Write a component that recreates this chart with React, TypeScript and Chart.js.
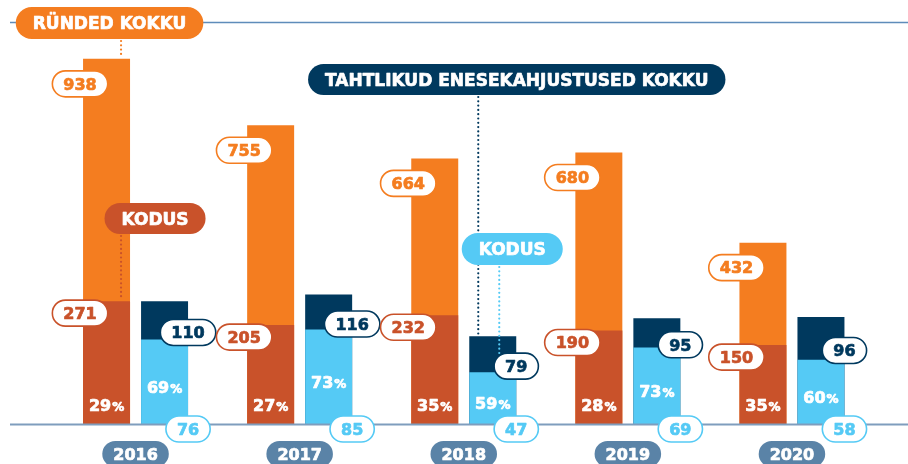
import React, { useEffect, useRef } from "react";
import { Chart, registerables } from "chart.js";

Chart.register(...registerables);

// ---- data ----
const years = ["2016", "2017", "2018", "2019", "2020"];
const attacksTotal = [938, 755, 664, 680, 432];
const attacksHome = [271, 205, 232, 190, 150];
const attacksHomePct = [29, 27, 35, 28, 35];
const selfHarmTotal = [110, 116, 79, 95, 96];
const selfHarmHome = [76, 85, 47, 69, 58];
const selfHarmHomePct = [69, 73, 59, 73, 60];

const headerAttacks = "RÜNDED KOKKU";
const headerSelfHarm = "TAHTLIKUD ENESEKAHJUSTUSED KOKKU";
const headerHome = "KODUS";

// ---- styles ----
const ORANGE = "#F47D20";
const DARK_ORANGE = "#C9522A";
const NAVY = "#00395E";
const LIGHT_BLUE = "#55CAF5";
const YEAR_BG = "#5A83A7";
const LINE = "#5E8CBA";
const BASE_LINE = "#7F9DBD";
const FAMILY = '"DejaVu Sans", "Open Sans", sans-serif';
const CAP = 0.729;

const ORANGE_MIN = -70;
const ORANGE_MAX = 1100;
const NAVY_MIN = 0;
const NAVY_MAX = 378;

function pillPath(ctx: CanvasRenderingContext2D, cx: number, cy: number, w: number, h: number) {
  ctx.beginPath();
  (ctx as any).roundRect(cx - w / 2, cy - h / 2, w, h, h / 2);
}

function boldText(ctx: CanvasRenderingContext2D, text: string, x: number, y: number, color: string) {
  ctx.fillStyle = color;
  ctx.strokeStyle = color;
  ctx.lineWidth = 0.7;
  ctx.lineJoin = "round";
  ctx.fillText(text, x, y);
  ctx.strokeText(text, x, y);
}

function textPill(
  ctx: CanvasRenderingContext2D,
  text: string,
  cx: number,
  cy: number,
  opts: { size: number; h: number; padX: number; fill: string; stroke?: string; color: string; minW?: number }
) {
  ctx.save();
  ctx.font = `bold ${opts.size}px ${FAMILY}`;
  const tw = ctx.measureText(text).width;
  const w = Math.max(tw + opts.padX * 2, opts.minW || 0);
  pillPath(ctx, cx, cy, w, opts.h);
  ctx.fillStyle = opts.fill;
  ctx.fill();
  if (opts.stroke) {
    ctx.lineWidth = 1.6;
    ctx.strokeStyle = opts.stroke;
    ctx.stroke();
  }
  ctx.textAlign = "center";
  ctx.textBaseline = "alphabetic";
  boldText(ctx, text, cx, cy + (opts.size * CAP) / 2, opts.color);
  ctx.restore();
}

function dotted(ctx: CanvasRenderingContext2D, x: number, y1: number, y2: number, color: string) {
  ctx.save();
  ctx.strokeStyle = color;
  ctx.lineWidth = 2.2;
  ctx.lineCap = "round";
  ctx.setLineDash([0, 4.3]);
  ctx.beginPath();
  ctx.moveTo(x, y1);
  ctx.lineTo(x, y2);
  ctx.stroke();
  ctx.restore();
}

function pctText(ctx: CanvasRenderingContext2D, value: number, cx: number, cy: number) {
  ctx.save();
  const n = String(value);
  const fBig = `bold 16px ${FAMILY}`;
  const fSmall = `bold 12px ${FAMILY}`;
  ctx.font = fBig;
  const w1 = ctx.measureText(n).width;
  ctx.font = fSmall;
  const w2 = ctx.measureText("%").width;
  const x0 = cx - (w1 + w2 + 1) / 2;
  const base = cy + (16 * CAP) / 2;
  ctx.textAlign = "left";
  ctx.textBaseline = "alphabetic";
  ctx.font = fBig;
  boldText(ctx, n, x0, base, "#FFFFFF");
  ctx.font = fSmall;
  boldText(ctx, "%", x0 + w1 + 1, base, "#FFFFFF");
  ctx.restore();
}

const overlay = {
  id: "overlay",
  beforeDatasetsDraw(chart: any) {
    const ctx = chart.ctx as CanvasRenderingContext2D;
    ctx.save();
    ctx.strokeStyle = LINE;
    ctx.lineWidth = 1.5;
    ctx.beginPath();
    ctx.moveTo(10, 22.5);
    ctx.lineTo(chart.width, 22.5);
    ctx.stroke();
    ctx.restore();
  },
  afterDatasetsDraw(chart: any) {
    const ctx = chart.ctx as CanvasRenderingContext2D;
    const area = chart.chartArea;
    const oHome = chart.getDatasetMeta(0).data;
    const oTot = chart.getDatasetMeta(1).data;
    const bHome = chart.getDatasetMeta(2).data;
    const nTot = chart.getDatasetMeta(3).data;
    const xScale = chart.scales.x;

    // baseline
    ctx.save();
    ctx.strokeStyle = BASE_LINE;
    ctx.lineWidth = 2;
    ctx.beginPath();
    ctx.moveTo(10, area.bottom - 0.5);
    ctx.lineTo(chart.width, area.bottom - 0.5);
    ctx.stroke();
    ctx.restore();

    // percentages
    years.forEach((_, i) => {
      pctText(ctx, attacksHomePct[i], oHome[i].x, area.bottom - 20);
      const lbTop = bHome[i].y;
      pctText(ctx, selfHarmHomePct[i], bHome[i].x, (lbTop + area.bottom) / 2 + 5);
    });

    // header annotations (dotted leaders first)
    const first = oTot[0];
    const leadX = first.x + 14.5;
    dotted(ctx, leadX, 41, first.y - 1, ORANGE);
    dotted(ctx, leadX, 236, oHome[0].y - 1, DARK_ORANGE);
    const mid = nTot[2];
    dotted(ctx, mid.x - 14.5, 97, mid.y - 1, NAVY);
    dotted(ctx, mid.x + 6.5, 267, bHome[2].y - 1, LIGHT_BLUE);

    textPill(ctx, headerAttacks, first.x + 3, 23, { size: 17, h: 32, padX: 17, fill: ORANGE, color: "#FFFFFF" });
    textPill(ctx, headerHome, first.x + 48.5, 218.5, { size: 17, h: 31, padX: 17, fill: DARK_ORANGE, color: "#FFFFFF" });
    textPill(ctx, headerSelfHarm, mid.x + 24, 79.5, { size: 17, h: 31, padX: 17, fill: NAVY, color: "#FFFFFF" });
    textPill(ctx, headerHome, mid.x + 19.5, 249, { size: 17, h: 32, padX: 17, fill: LIGHT_BLUE, color: "#FFFFFF" });

    // value pills
    years.forEach((_, i) => {
      const ot = oTot[i];
      const oh = oHome[i];
      const nt = nTot[i];
      const bh = bHome[i];
      const oLeft = ot.x - ot.width / 2 - 3;
      const nRight = nt.x + nt.width / 2;
      const numOpts = { size: 16, h: 26, padX: 11, fill: "#FFFFFF" };
      textPill(ctx, String(attacksTotal[i]), oLeft, ot.y + 25, { ...numOpts, stroke: ORANGE, color: ORANGE });
      textPill(ctx, String(attacksHome[i]), oLeft, oh.y + 12, { ...numOpts, stroke: DARK_ORANGE, color: DARK_ORANGE });
      textPill(ctx, String(selfHarmTotal[i]), nRight, (nt.y + bh.y) / 2 + 12, { ...numOpts, stroke: NAVY, color: NAVY, minW: 44 });
      textPill(ctx, String(selfHarmHome[i]), nRight, area.bottom + 4, { ...numOpts, stroke: LIGHT_BLUE, color: LIGHT_BLUE, minW: 44 });
      // year pill
      const cx = xScale.getPixelForValue(i);
      textPill(ctx, years[i], cx, 454, { size: 16, h: 26, padX: 11, fill: YEAR_BG, color: "#FFFFFF" });
    });
  },
};

export default function App() {
  const ref = useRef<HTMLCanvasElement | null>(null);

  useEffect(() => {
    document.body.style.margin = "0";
    const canvas = ref.current;
    if (!canvas) return;
    const chart = new Chart(canvas, {
      type: "bar",
      data: {
        labels: years,
        datasets: [
          { label: "Kodus (ründed)", data: attacksHome, backgroundColor: DARK_ORANGE, stack: "a", yAxisID: "y", order: 1, base: ORANGE_MIN } as any,
          { label: "Ründed kokku", data: attacksTotal, backgroundColor: ORANGE, stack: "a", yAxisID: "y", order: 2, base: ORANGE_MIN } as any,
          { label: "Kodus (enesekahjustused)", data: selfHarmHome, backgroundColor: LIGHT_BLUE, stack: "b", yAxisID: "y2", order: 1 },
          { label: "Tahtlikud enesekahjustused kokku", data: selfHarmTotal, backgroundColor: NAVY, stack: "b", yAxisID: "y2", order: 2 },
        ],
      },
      options: {
        animation: false,
        responsive: false,
        devicePixelRatio: 1,
        categoryPercentage: 0.707,
        barPercentage: 0.81,
        layout: { padding: { left: 53.5, right: 34, top: 0, bottom: 39 } },
        plugins: { legend: { display: false }, tooltip: { enabled: false } },
        scales: {
          x: { display: false, grid: { display: false } },
          y: { display: false, stacked: false, min: ORANGE_MIN, max: ORANGE_MAX },
          y2: { display: false, stacked: false, min: NAVY_MIN, max: NAVY_MAX },
        },
      } as any,
      plugins: [overlay],
    });
    return () => chart.destroy();
  }, []);

  return (
    <div style={{ position: "fixed", left: 0, top: 0, width: 908, height: 464, background: "#FFFFFF" }}>
      <canvas ref={ref} width={908} height={464} />
    </div>
  );
}
